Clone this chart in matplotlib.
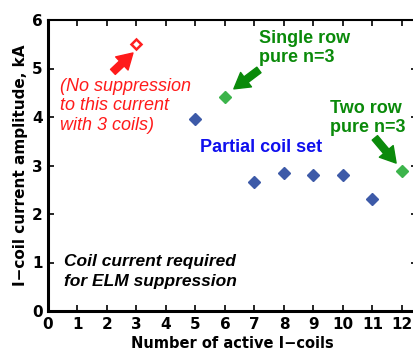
import matplotlib
matplotlib.use("Agg")
import matplotlib.pyplot as plt

plt.rcParams['font.family'] = ['DejaVu Sans']
NARROW = ['Liberation Sans', 'DejaVu Sans']

# Data
partial_x = [5, 7, 8, 9, 10, 11]
partial_y = [3.95, 2.65, 2.85, 2.80, 2.80, 2.30]
pure_x = [6, 12]
pure_y = [4.42, 2.88]
nosupp_x = [3]
nosupp_y = [5.5]
xticks = list(range(0, 13))
yticks = list(range(0, 7))

fig = plt.figure(figsize=(4.14, 3.52), dpi=100)
ax = fig.add_axes([48/414, 1-311/352, (12.5*29.5)/414, (311-20)/352])
ax.set_xlim(0, 12.5)
ax.set_ylim(0, 6)

blue = '#3d5aa8'
lgreen = '#3cb44b'
dgreen = '#0a8a0a'

ax.errorbar(partial_x, partial_y, yerr=0.08, fmt='D', color=blue, ms=6,
            elinewidth=2, capsize=0, clip_on=False, zorder=3)
ax.errorbar(pure_x, pure_y, yerr=0.08, fmt='D', color=lgreen, ms=6,
            elinewidth=2, capsize=0, clip_on=False, zorder=3)
ax.errorbar(nosupp_x, nosupp_y, yerr=0.1, fmt='D', mfc='white', mec='#ff2020',
            mew=1.8, color='#ff2020', ms=5.5, elinewidth=2, capsize=0, zorder=3)

ax.set_xticks(xticks)
ax.set_yticks(yticks)
ax.tick_params(direction='in', top=True, right=True, length=4, width=1.2,
               labelsize=11, pad=4)
for lab in ax.get_xticklabels() + ax.get_yticklabels():
    lab.set_fontweight('bold')
ax.spines['left'].set_linewidth(2.2)
ax.spines['bottom'].set_linewidth(2.2)
ax.spines['top'].set_linewidth(1.5)
ax.spines['right'].set_visible(False)

ax.set_xlabel('Number of active I\u2212coils', fontsize=10.5, fontweight='bold', labelpad=3)
ax.set_ylabel('I\u2212coil current amplitude, kA', fontsize=11, fontweight='bold', labelpad=3)

arrow_style = 'simple,head_width=1.3,head_length=1.1,tail_width=0.5'

# Annotations
ax.text(0.41, 4.23, '(No suppression\nto this current\nwith 3 coils)', color='#ff1a1a',
        fontsize=13, style='italic', ha='left', va='center', linespacing=1.2,
        family=NARROW)
ax.annotate('', xy=(2.88, 5.32), xytext=(2.2, 4.93),
            arrowprops=dict(arrowstyle=arrow_style, color='#ff1a1a', shrinkA=0, shrinkB=0))
ax.text(7.15, 5.42, 'Single row\npure n=3', color=dgreen, fontsize=13, fontweight='bold',
        ha='left', va='center', linespacing=1.2, family=NARROW)
ax.annotate('', xy=(6.3, 4.58), xytext=(7.15, 4.97),
            arrowprops=dict(arrowstyle=arrow_style, color=dgreen, shrinkA=0, shrinkB=0))
ax.text(9.55, 3.98, 'Two row\npure n=3', color=dgreen, fontsize=13, fontweight='bold',
        ha='left', va='center', linespacing=1.2, family=NARROW)
ax.annotate('', xy=(11.8, 3.05), xytext=(11.08, 3.57),
            arrowprops=dict(arrowstyle=arrow_style, color=dgreen, shrinkA=0, shrinkB=0))
ax.text(5.15, 3.38, 'Partial coil set', color='#1010ee', fontsize=13, fontweight='bold',
        ha='left', va='center', family=NARROW)
ax.text(0.54, 0.82, 'Coil current required\nfor ELM suppression', color='black', fontsize=12.5,
        fontweight='bold', style='italic', ha='left', va='center', linespacing=1.45,
        family=NARROW)

fig.savefig('out.png', dpi=100)
